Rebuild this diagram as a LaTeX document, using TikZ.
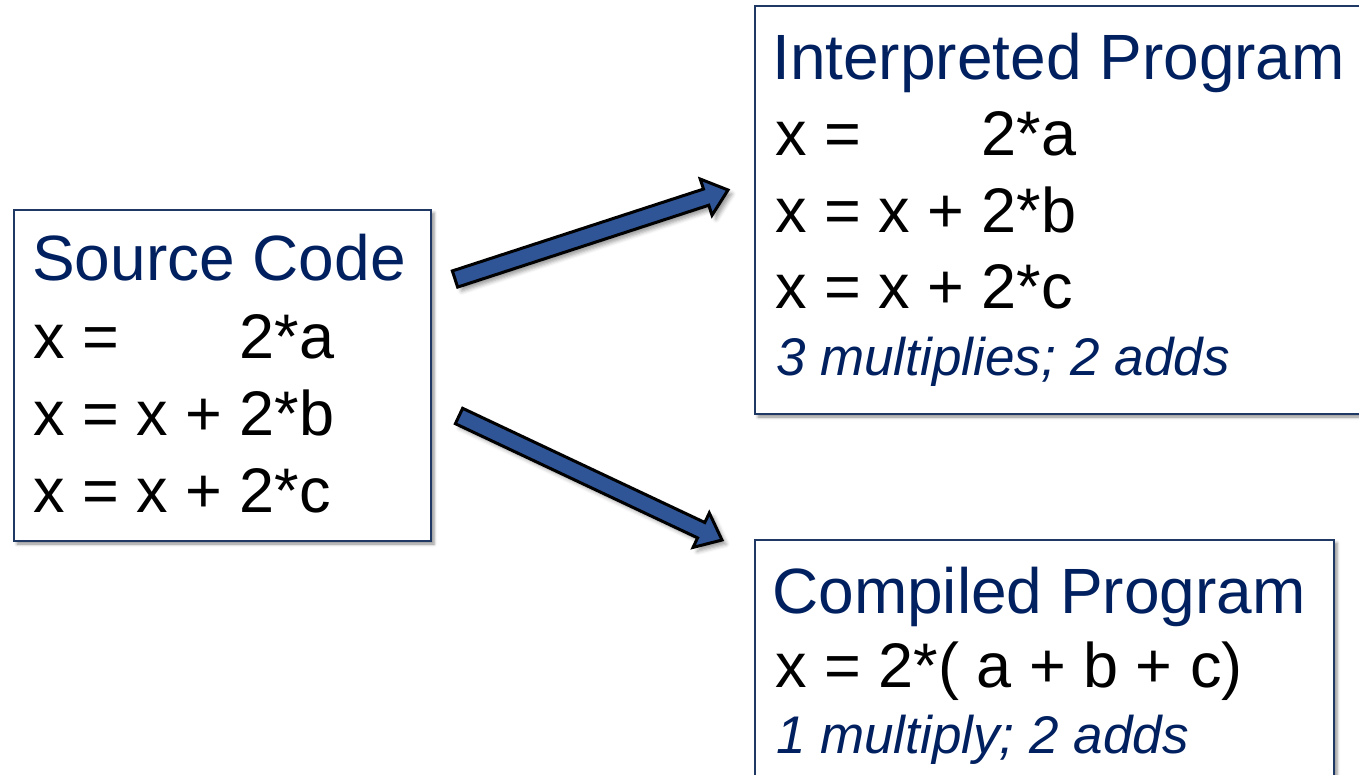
\documentclass[tikz,border=0pt]{standalone}
\usepackage{fontspec}
\setmainfont{Liberation Sans}
\usetikzlibrary{calc,shadows.blur}
\definecolor{navy}{RGB}{0,32,96}
\definecolor{boxline}{RGB}{31,56,100}
\definecolor{arrowblue}{RGB}{47,85,151}
\tikzset{
  box/.style={draw=boxline, line width=2pt, fill=white, rectangle, inner sep=0pt,
    anchor=north west,
    blur shadow={shadow xshift=3pt, shadow yshift=-3pt, shadow blur radius=3pt, shadow opacity=45}},
  title/.style={anchor=base west, inner sep=0pt, text=navy, font=\fontsize{64}{70}\selectfont},
  code/.style={anchor=base west, inner sep=0pt, text=black, font=\fontsize{63}{68}\selectfont},
  note/.style={anchor=base west, inner sep=0pt, text=navy, font=\fontsize{53}{58}\selectfont\itshape},
  arr/.style={draw=black, fill=arrowblue, line width=3pt, line join=miter,
    blur shadow={shadow xshift=4pt, shadow yshift=-4pt, shadow blur radius=4pt, shadow opacity=40}}
}
\newcommand\blockarrow[2]{%
  \coordinate (#1n) at ($(#2)!23pt!(#1)$);
  \path[arr] ($(#1)!8.5pt!90:(#2)$) -- ($(#1n)!8.5pt!-90:(#1)$) -- ($(#1n)!19pt!-90:(#1)$)
    -- (#2) -- ($(#1n)!19pt!90:(#1)$) -- ($(#1n)!8.5pt!90:(#1)$)
    -- ($(#1)!8.5pt!-90:(#2)$) -- cycle;}
\begin{document}
\begin{tikzpicture}[x=1pt,y=-1pt]
\useasboundingbox (0,0) rectangle (1359,774);
\clip (0,0) rectangle (1359,774);
% boxes
\node[box, minimum width=417pt, minimum height=331pt] (src) at (13,209) {};
\node[box, minimum width=640pt, minimum height=408pt] (interp) at (754,5) {};
\node[box, minimum width=579pt, minimum height=260pt] (comp) at (754,539) {};
% source code
\node[title] (srct) at (32,280) {Source Code};
\node[code] (src1) at (33,358) {x = \phantom{x + }2*a};
\node[code] (src2) at (33,435) {x = x + 2*b};
\node[code] (src3) at (33,512) {x = x + 2*c};
% interpreted
\node[title] (intt) at (772,79) {Interpreted Program};
\node[code] (int1) at (775,155) {x = \phantom{x + }2*a};
\node[code] (int2) at (775,232) {x = x + 2*b};
\node[code] (int3) at (775,308) {x = x + 2*c};
\node[note] (intn) at (776,375) {3 multiplies; 2 adds};
% compiled
\node[title] (compt) at (772,613) {Compiled Program};
\node[code] (comp1) at (775,687) {x = 2*( a + b + c)};
\node[note] (compn) at (776,753) {1 multiply; 2 adds};
% arrows
\coordinate (a1s) at ($(src.north east)+(23,70)$);
\coordinate (a1e) at ($(interp.south west)+(-26,-225)$);
\coordinate (a2s) at ($(src.north east)+(27,207)$);
\coordinate (a2e) at ($(comp.north west)+(-32,1)$);
\blockarrow{a1s}{a1e}
\blockarrow{a2s}{a2e}
\end{tikzpicture}
\end{document}
